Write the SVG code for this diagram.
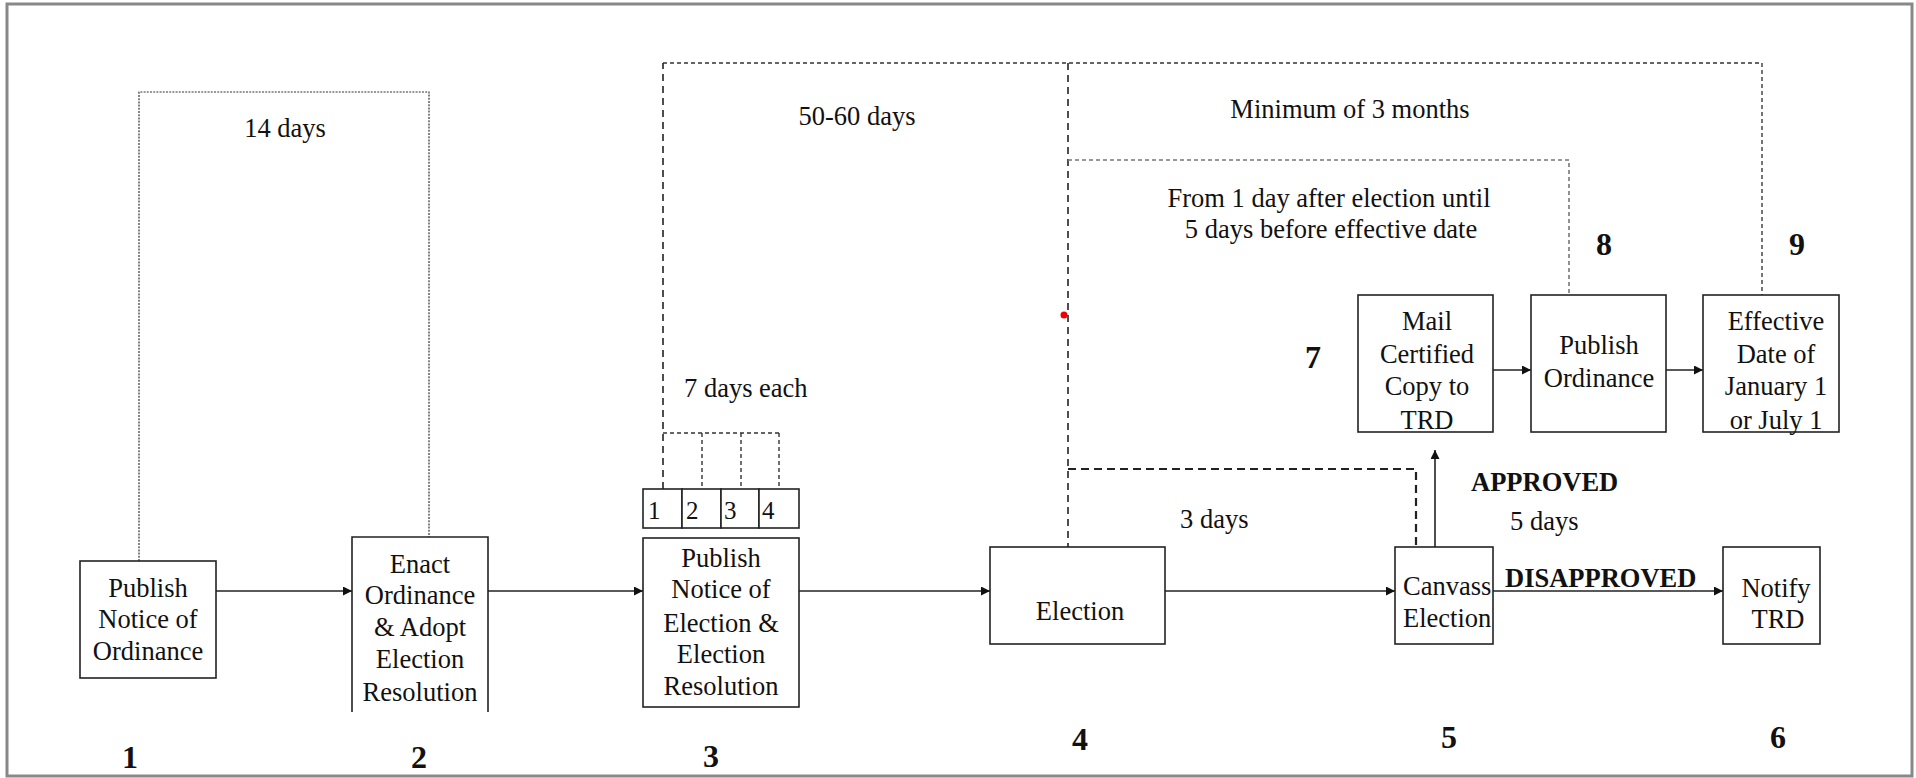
<svg xmlns="http://www.w3.org/2000/svg" width="1916" height="778" viewBox="0 0 1916 778">
<defs>
<style>
text{font-family:"Liberation Serif","Times New Roman",serif;fill:#111}
.t{font-size:26.5px}
.c{text-anchor:middle}
.n{font-size:32px;font-weight:bold;text-anchor:middle}
.b{font-size:26.5px;font-weight:bold}
.cell{font-size:25px}
.box{fill:#fff;stroke:#222;stroke-width:1.6}
.ln{fill:none;stroke:#222;stroke-width:1.6}
.dot{fill:none;stroke:#333;stroke-width:1.2;stroke-dasharray:2 1.2}
.dsh{fill:none;stroke:#333;stroke-width:1.4;stroke-dasharray:4 3}
.dl{fill:none;stroke:#222;stroke-width:1.6;stroke-dasharray:7 5}
.dg{fill:none;stroke:#777;stroke-width:1.6;stroke-dasharray:4 3}
.dk{fill:none;stroke:#222;stroke-width:2.2;stroke-dasharray:8 5}
</style>
<marker id="ah" viewBox="0 0 10 10" refX="10" refY="5" markerWidth="10" markerHeight="9" markerUnits="userSpaceOnUse" orient="auto">
<path d="M0,0 L10,5 L0,10 z" fill="#111"/>
</marker>
</defs>
<rect x="7" y="4" width="1905" height="772" fill="#fff" stroke="#888" stroke-width="3"/>

<g id="connectors">
<path class="dot" d="M139,561 V92 H429 V537"/>
<path class="dsh" d="M663,63 H1762 V295"/>
<path class="dl" d="M663,489 V63"/>
<path class="dsh" d="M663,433 H779 M702,433 V489 M741,433 V489 M779,433 V489"/>
<path class="dl" d="M1068,63 V547"/>
<path class="dg" d="M1068,160 H1569 V295"/>
<path class="dg" d="M1762,63 V295"/>
<path class="dk" d="M1068,469 H1416 V547"/>
<line class="ln" x1="216" y1="591" x2="352" y2="591" marker-end="url(#ah)"/>
<line class="ln" x1="488" y1="591" x2="643" y2="591" marker-end="url(#ah)"/>
<line class="ln" x1="799" y1="591" x2="990" y2="591" marker-end="url(#ah)"/>
<line class="ln" x1="1165" y1="591" x2="1395" y2="591" marker-end="url(#ah)"/>
<line class="ln" x1="1493" y1="591" x2="1723" y2="591" marker-end="url(#ah)"/>
<line class="ln" x1="1435" y1="552" x2="1435" y2="450" marker-end="url(#ah)"/>
<line class="ln" x1="1493" y1="370" x2="1531" y2="370" marker-end="url(#ah)"/>
<line class="ln" x1="1666" y1="370" x2="1703" y2="370" marker-end="url(#ah)"/>
</g>

<g id="labels">
<text class="t c" x="285" y="137">14 days</text>
<text class="t c" x="857" y="125">50-60 days</text>
<text class="t c" x="1350" y="118">Minimum of 3 months</text>
<text class="t c" x="1329" y="207">From 1 day after election until</text>
<text class="t c" x="1331" y="238">5 days before effective date</text>
<text class="t" x="684" y="397">7 days each</text>
<text class="t" x="1180" y="528">3 days</text>
<text class="b" x="1471" y="491">APPROVED</text>
<text class="t" x="1510" y="530">5 days</text>
<text class="b" x="1505" y="587">DISAPPROVED</text>
<circle cx="1064" cy="315" r="3.5" fill="#e00"/>
</g>

<g id="node1">
<rect class="box" x="80" y="561" width="136" height="117"/>
<text class="t c" x="148" y="597">Publish</text>
<text class="t c" x="148" y="628">Notice of</text>
<text class="t c" x="148" y="660">Ordinance</text>
<text class="n" x="130" y="768">1</text>
</g>

<g id="node2">
<path class="box" d="M352,712 V537 H488 V712"/>
<text class="t c" x="420" y="573">Enact</text>
<text class="t c" x="420" y="604">Ordinance</text>
<text class="t c" x="420" y="636">&amp; Adopt</text>
<text class="t c" x="420" y="668">Election</text>
<text class="t c" x="420" y="701">Resolution</text>
<text class="n" x="419" y="768">2</text>
</g>

<g id="node3">
<rect class="box" x="643" y="489" width="39" height="39"/>
<rect class="box" x="682" y="489" width="39" height="39"/>
<rect class="box" x="721" y="489" width="38" height="39"/>
<rect class="box" x="759" y="489" width="40" height="39"/>
<text class="cell" x="648" y="519">1</text>
<text class="cell" x="686" y="519">2</text>
<text class="cell" x="724" y="519">3</text>
<text class="cell" x="762" y="519">4</text>
<rect class="box" x="643" y="538" width="156" height="169"/>
<text class="t c" x="721" y="567">Publish</text>
<text class="t c" x="721" y="598">Notice of</text>
<text class="t c" x="721" y="632">Election &amp;</text>
<text class="t c" x="721" y="663">Election</text>
<text class="t c" x="721" y="695">Resolution</text>
<text class="n" x="711" y="767">3</text>
</g>

<g id="node4">
<rect class="box" x="990" y="547" width="175" height="97"/>
<text class="t c" x="1080" y="620">Election</text>
<text class="n" x="1080" y="750">4</text>
</g>

<g id="node5">
<rect class="box" x="1395" y="547" width="98" height="97"/>
<text class="t" x="1403" y="595">Canvass</text>
<text class="t" x="1403" y="627">Election</text>
<text class="n" x="1449" y="748">5</text>
</g>

<g id="node6">
<rect class="box" x="1723" y="547" width="97" height="97"/>
<text class="t c" x="1776" y="597">Notify</text>
<text class="t c" x="1778" y="628">TRD</text>
<text class="n" x="1778" y="748">6</text>
</g>

<g id="node7">
<rect class="box" x="1358" y="295" width="135" height="137"/>
<text class="t c" x="1427" y="330">Mail</text>
<text class="t c" x="1427" y="363">Certified</text>
<text class="t c" x="1427" y="395">Copy to</text>
<text class="t c" x="1427" y="429">TRD</text>
<text class="n" x="1313" y="368">7</text>
</g>

<g id="node8">
<rect class="box" x="1531" y="295" width="135" height="137"/>
<text class="t c" x="1599" y="354">Publish</text>
<text class="t c" x="1599" y="387">Ordinance</text>
<text class="n" x="1604" y="255">8</text>
</g>

<g id="node9">
<rect class="box" x="1703" y="295" width="136" height="137"/>
<text class="t c" x="1776" y="330">Effective</text>
<text class="t c" x="1776" y="363">Date of</text>
<text class="t c" x="1776" y="395">January 1</text>
<text class="t c" x="1776" y="429">or July 1</text>
<text class="n" x="1797" y="255">9</text>
</g>
</svg>
